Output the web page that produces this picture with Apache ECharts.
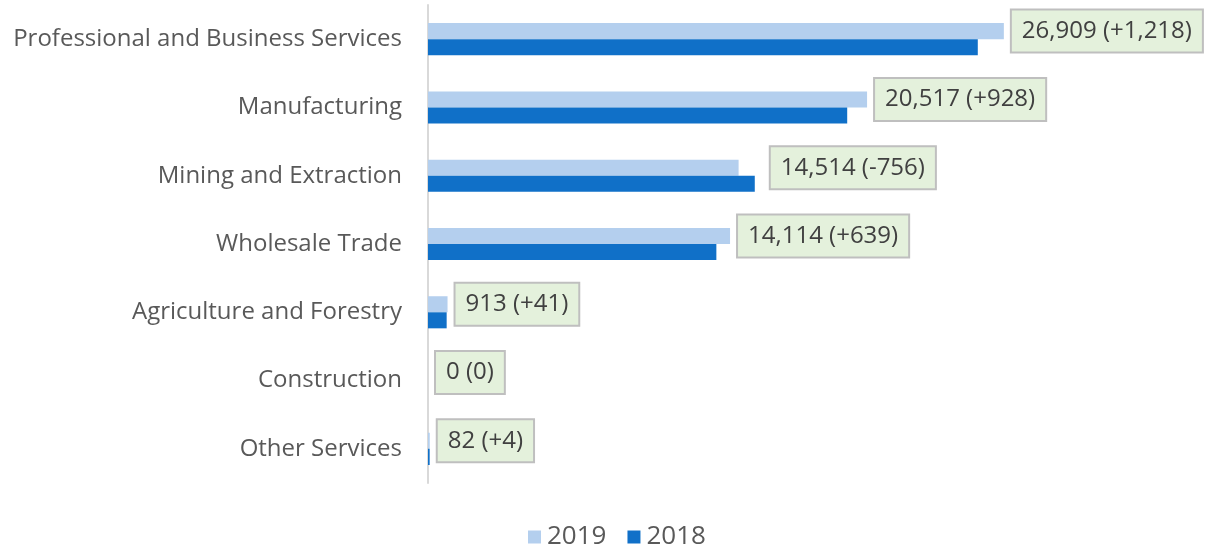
<!DOCTYPE html>
<html>
<head>
<meta charset="utf-8">
<script src="https://cdn.jsdelivr.net/npm/echarts@6/dist/echarts.min.js"></script>
<style>
  html, body { margin: 0; padding: 0; background: #fff; }
  #chart { width: 1208px; height: 550px; }
</style>
</head>
<body>
<div id="chart"></div>
<script>
// 데이터
const categories = [
  "Professional and Business Services",
  "Manufacturing",
  "Mining and Extraction",
  "Wholesale Trade",
  "Agriculture and Forestry",
  "Construction",
  "Other Services",
];
const values2019 = [26909, 20517, 14514, 14114, 913, 0, 82];
const values2018 = [25691, 19589, 15270, 13475, 872, 0, 78];
const changeLabels = ["+1,218", "+928", "-756", "+639", "+41", "0", "+4"];

const chart = echarts.init(document.getElementById("chart"));
const font = "Open Sans, Liberation Sans, sans-serif";
const axisMax = 35000;
const gridLeft = 428;
const gridRight = 31;
const pxPerUnit = (1208 - gridLeft - gridRight) / axisMax;

// 2018 막대가 더 길면 라벨을 그 끝 뒤로 밀기
const data2019 = values2019.map((v, i) => {
  const over = values2018[i] - v;
  return {
    value: v,
    label: { distance: over > 0 ? 16 + over * pxPerUnit : 8 },
  };
});

const option = {
  animation: false,
  textStyle: { fontFamily: font },
  legend: {
    top: 519,
    left: 523,
    itemWidth: 13,
    itemHeight: 13,
    itemGap: 21,
    icon: "rect",
    textStyle: { fontSize: 26, color: "#595959", fontFamily: font, padding: [0, 0, 0, 1] },
    data: ["2019", "2018"],
  },
  grid: {
    left: gridLeft,
    right: gridRight,
    top: 5,
    bottom: 67,
  },
  xAxis: {
    type: "value",
    min: 0,
    max: axisMax,
    show: false,
  },
  yAxis: {
    type: "category",
    inverse: true,
    data: categories,
    axisLine: { lineStyle: { color: "#d9d9d9", width: 2 } },
    axisTick: { show: false },
    axisLabel: { fontSize: 24, color: "#595959", margin: 26, fontFamily: font },
  },
  series: [
    {
      name: "2019",
      type: "bar",
      data: data2019,
      barGap: "0%",
      barCategoryGap: "53%",
      itemStyle: { color: "#b4cfee" },
      label: {
        show: true,
        position: "right",
        fontSize: 24,
        color: "#404040",
        fontFamily: font,
        backgroundColor: "#e4f1dc",
        borderColor: "#bfbfbf",
        borderWidth: 2,
        padding: [9, 10, 8, 10],
        formatter: (p) =>
          p.value.toLocaleString("en-US") + " (" + changeLabels[p.dataIndex] + ")",
      },
    },
    {
      name: "2018",
      type: "bar",
      data: values2018,
      itemStyle: { color: "#1070c8" },
    },
  ],
};

chart.setOption(option);
</script>
</body>
</html>
